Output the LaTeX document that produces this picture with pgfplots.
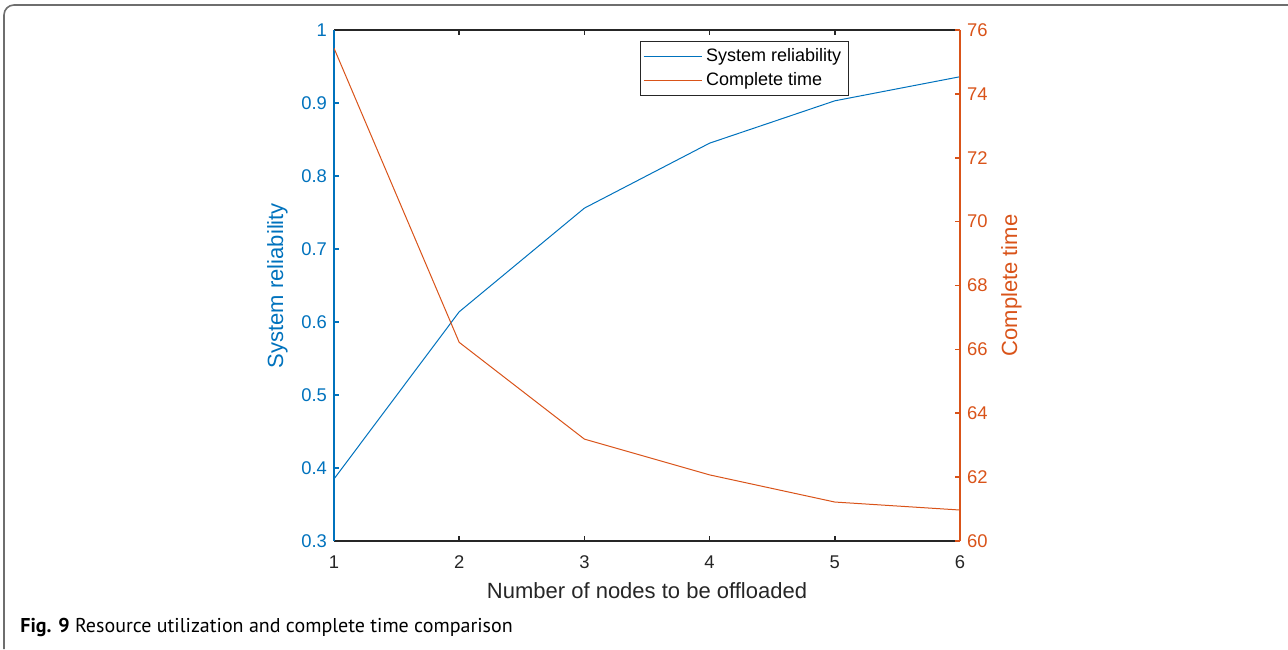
\documentclass[border=0pt]{standalone}
\usepackage{fontspec}
\setmainfont{Liberation Sans}
\newfontfamily\capfont{PT Sans}
\usepackage{pgfplots}
\pgfplotsset{compat=1.18}
\definecolor{mblue}{RGB}{0,114,189}
\definecolor{morange}{RGB}{217,83,25}
\definecolor{mgray}{RGB}{38,38,38}
\definecolor{fgray}{RGB}{110,110,110}
\begin{document}
\begin{tikzpicture}[x=0.5pt,y=0.5pt]
\useasboundingbox (0,0) rectangle (1288,649);
\draw[line width=0.8pt, fgray] (1288,644) -- (14,644) arc[start angle=90,end angle=180,radius=10] -- (4,0);
\node[anchor=base west, inner sep=0pt, font=\capfont\fontsize{10}{12}\selectfont] at (20,17) {\textbf{Fig. 9} Resource utilization and complete time comparison};
\begin{axis}[
  at={(167pt,54pt)}, anchor=south west,
  scale only axis, width=313pt, height=255.5pt,
  xmin=1, xmax=6, ymin=0.3, ymax=1,
  axis x line*=box, axis y line*=left,
  xtick={1,2,3,4,5,6},
  ytick={0.3,0.4,0.5,0.6,0.7,0.8,0.9,1},
  tick align=inside, major tick length=2.5pt,
  axis line style={line width=0.8pt, mgray},
  y axis line style={mblue},
  every tick/.style={line width=0.8pt, mgray},
  ytick style={mblue},
  yticklabel style={mblue},
  xticklabel style={mgray, yshift=-4pt},
  /pgf/number format/assume math mode=true,
  tick label style={font=\fontsize{9.2}{10}\selectfont},
  label style={font=\fontsize{11}{12}\selectfont},
  xlabel={Number of nodes to be offloaded},
  xlabel style={mgray, yshift=0pt},
  ylabel={System reliability},
  ylabel style={mblue},
]
\addplot[mblue, line width=0.5pt] coordinates {(1,0.385) (2,0.614) (3,0.756) (4,0.845) (5,0.903) (6,0.936)};
\end{axis}
\begin{axis}[
  at={(167pt,54pt)}, anchor=south west,
  scale only axis, width=313pt, height=255.5pt,
  xmin=1, xmax=6, ymin=60, ymax=76,
  axis x line=none, axis y line*=right,
  ytick={60,62,64,66,68,70,72,74,76},
  tick align=inside, major tick length=2.5pt,
  axis line style={line width=0.8pt, morange},
  every tick/.style={line width=0.8pt, morange},
  yticklabel style={morange},
  /pgf/number format/assume math mode=true,
  tick label style={font=\fontsize{9.2}{10}\selectfont},
  label style={font=\fontsize{11}{12}\selectfont},
  ylabel={Complete time},
  ylabel style={morange},
  legend style={at={(0.822,0.978)}, anchor=north east, draw=mgray, line width=0.4pt,
    font=\fontsize{9}{10}\selectfont, row sep=0pt, inner sep=1.5pt},
  legend cell align=left,
  legend image code/.code={\draw[#1] (0pt,0pt) -- (29pt,0pt);},
]
\addlegendimage{mblue, line width=0.5pt}
\addlegendentry{System reliability}
\addplot[morange, line width=0.5pt] coordinates {(1,75.43) (2,66.22) (3,63.19) (4,62.07) (5,61.22) (6,60.97)};
\addlegendentry{Complete time}
\end{axis}
\end{tikzpicture}
\end{document}
